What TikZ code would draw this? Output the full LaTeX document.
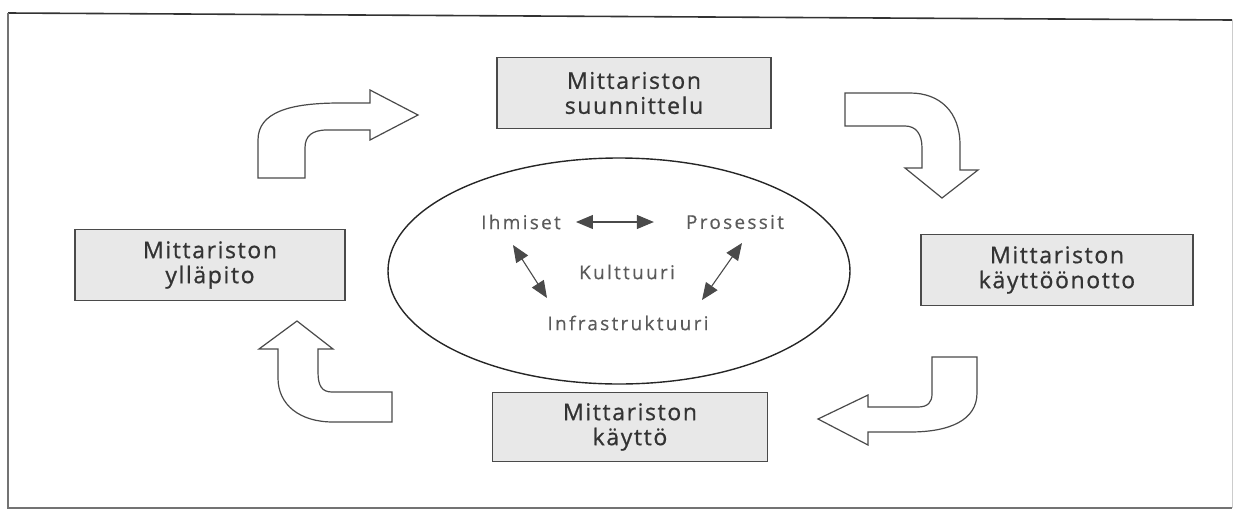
\documentclass[tikz,border=0pt]{standalone}
\usepackage{fontspec}
\setmainfont{Open Sans}
\newfontfamily\boxfont[LetterSpace=7,FakeBold=0.8]{Open Sans}
\newfontfamily\innerfont[LetterSpace=12,FakeBold=0.4]{Open Sans}
\usetikzlibrary{arrows.meta,shapes.geometric}
\definecolor{edge}{HTML}{4A4A4A}
\definecolor{boxfill}{HTML}{E8E8E8}
\definecolor{boxtext}{HTML}{333333}
\definecolor{innertext}{HTML}{5A5A5A}
\tikzset{
  phase/.style={draw=edge, line width=1.5pt, fill=boxfill, text=boxtext,
    minimum width=#1, minimum height=71pt, inner sep=0pt, align=center,
    font=\boxfont\fontsize{23}{25}\selectfont},
  phase/.default=272pt,
  factor/.style={text=innertext, inner sep=2pt, font=\innerfont\fontsize{19}{20}\selectfont},
  link/.style={draw=edge, line width=1.1pt,
    {Triangle[length=17pt,width=14pt]}-{Triangle[length=17pt,width=14pt]}},
  blockarrow/.style={draw=edge, line width=1.2pt, fill=white, line join=miter},
}
\begin{document}
\begin{tikzpicture}[x=1pt, y=-1pt]
\useasboundingbox (0,0) rectangle (1235,512);

% outer frame
\draw[line width=1.6pt, black!80] (8,13) -- (1232,20);
\draw[line width=1.4pt, black!55] (8,13) -- (8,508) -- (1232,508);
\draw[line width=1pt, black!20] (1232,20) -- (1232,508);

% four phases of the cycle
\node[phase=274pt] (plan) at (634,93)    {Mittariston\\suunnittelu};
\node[phase=272pt] (deploy) at (1057,270) {Mittariston\\käyttöönotto};
\node[phase=275pt, minimum height=69pt] (use) at (630,427) {Mittariston\\käyttö};
\node[phase=270pt] (maint) at (210,265)  {Mittariston\\ylläpito};

% central ellipse with the four factors
\coordinate (core) at (619,271);
\draw[draw=black!85, line width=1.4pt] (core) ellipse [x radius=231, y radius=113];
\node[factor] (people) at (521,222) {Ihmiset};
\node[factor] (process) at (735,222) {Prosessit};
\node[factor] (culture) at (627,272) {Kulttuuri};
\node[factor] (infra) at (628,323) {Infrastruktuuri};

\draw[link, shorten <=13pt, shorten >=30pt] (people.east) -- (process.west |- people.east);
\coordinate (pl1) at (513,245);
\coordinate (pl2) at (547,298);
\coordinate (pr1) at (742,243);
\coordinate (pr2) at (702,300);
\draw[link] (pl1) -- (pl2);
\draw[link] (pr1) -- (pr2);

% curved block arrows between the phases
% maintenance -> planning
\draw[blockarrow] (258,178) -- (258,140)
  .. controls (258,112) and (290,103) .. (340,103) -- (370,103)
  -- (370,90) -- (418,115) -- (370,140) -- (370,130) -- (327,130)
  .. controls (312,130) and (305,136) .. (305,148) -- (305,178) -- cycle;
% planning -> deployment
\draw[blockarrow] (845,93) -- (910,93)
  .. controls (940,93) and (960,112) .. (960,145) -- (960,170)
  -- (978,170) -- (942,198) -- (905,168) -- (922,168) -- (922,148)
  .. controls (922,134) and (916,126) .. (905,126) -- (845,126) -- cycle;
% deployment -> use
\draw[blockarrow] (977,357) -- (977,393)
  .. controls (977,420) and (950,432) .. (910,432) -- (868,432)
  -- (868,445) -- (818,419) -- (868,395) -- (868,407) -- (918,407)
  .. controls (928,407) and (932,402) .. (932,394) -- (932,357) -- cycle;
% use -> maintenance
\draw[blockarrow] (392,392) -- (392,422) -- (333,422)
  .. controls (300,422) and (278,405) .. (278,378) -- (278,349)
  -- (259,349) -- (297,321) -- (333,349) -- (318,349) -- (318,372)
  .. controls (318,386) and (322,392) .. (332,392) -- cycle;
\end{tikzpicture}
\end{document}
